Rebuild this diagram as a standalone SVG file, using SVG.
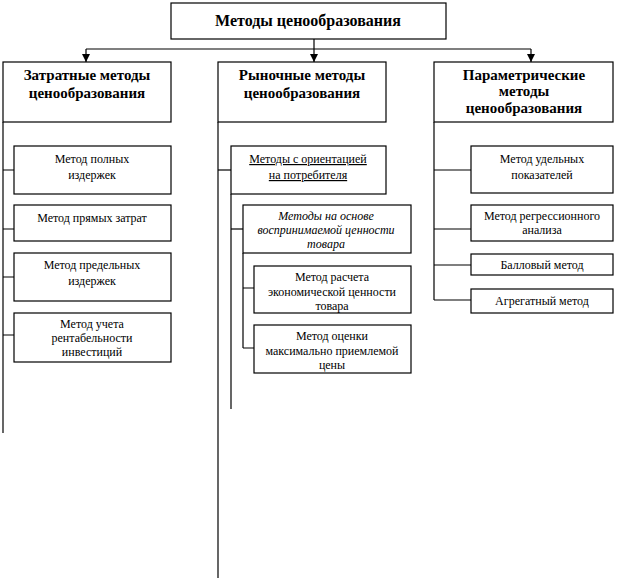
<svg xmlns="http://www.w3.org/2000/svg" width="618" height="579" viewBox="0 0 618 579">
<style>
.b{fill:#fff;stroke:#000;stroke-width:1.2}
.c{stroke:#000;stroke-width:1.2;fill:none}
text{font-family:"Liberation Serif","Times New Roman",serif;fill:#000;text-anchor:middle}
.t{font-size:16px;font-weight:bold}
.h{font-size:15px;font-weight:bold}
.s{font-size:12px}
.u{text-decoration:underline}
.i{font-style:italic}
</style>
<defs>
<marker id="ar" viewBox="0 0 10 10" refX="10" refY="5" markerWidth="8" markerHeight="8" markerUnits="userSpaceOnUse" orient="auto"><path d="M0,0L10,5L0,10z" fill="#000"/></marker>
</defs>
<g id="connectors" class="c">
<path d="M314,39V49"/>
<path d="M86,49H531"/>
<path d="M86,49V62" marker-end="url(#ar)"/>
<path d="M314,49V62" marker-end="url(#ar)"/>
<path d="M531,49V62" marker-end="url(#ar)"/>
<path d="M3,122V433"/>
<path d="M3,170H14M3,229H14M3,277H14M3,335H14"/>
<path d="M218,122V578"/>
<path d="M218,170H231"/>
<path d="M231,194V409"/>
<path d="M231,229H243"/>
<path d="M243,253V348"/>
<path d="M243,288H254M243,348H254"/>
<path d="M434,122V300"/>
<path d="M434,170H471M434,229H471M434,265H471M434,300H471"/>
</g>
<g id="root"><rect class="b" x="171" y="3" width="275" height="36"/><text class="t" x="308" y="26">Методы ценообразования</text></g>
<g id="cost"><rect class="b" x="3" y="62" width="168" height="60"/><text class="h" x="87" y="80">Затратные методы</text><text class="h" x="87" y="98">ценообразования</text></g>
<g id="market"><rect class="b" x="218" y="62" width="168" height="60"/><text class="h" x="302" y="80">Рыночные методы</text><text class="h" x="302" y="98">ценообразования</text></g>
<g id="param"><rect class="b" x="434" y="62" width="179" height="60"/><text class="h" x="524" y="80">Параметрические</text><text class="h" x="524" y="96">методы</text><text class="h" x="524" y="113">ценообразования</text></g>
<g id="full"><rect class="b" x="14" y="146" width="157" height="48"/><text class="s" x="92" y="163">Метод полных</text><text class="s" x="92" y="179">издержек</text></g>
<g id="direct"><rect class="b" x="14" y="205" width="157" height="36"/><text class="s" x="92" y="222">Метод прямых затрат</text></g>
<g id="marginal"><rect class="b" x="14" y="253" width="157" height="48"/><text class="s" x="92" y="269">Метод предельных</text><text class="s" x="92" y="285">издержек</text></g>
<g id="roi"><rect class="b" x="14" y="313" width="157" height="49"/><text class="s" x="92" y="328">Метод учета</text><text class="s" x="92" y="342">рентабельности</text><text class="s" x="92" y="356">инвестиций</text></g>
<g id="consumer"><rect class="b" x="231" y="146" width="155" height="48"/><text class="s u" x="308" y="163">Методы с ориентацией</text><text class="s u" x="308" y="179">на потребителя</text></g>
<g id="perceived"><rect class="b" x="243" y="205" width="168" height="48"/><text class="s i" x="326" y="220">Методы на основе</text><text class="s i" x="326" y="234">воспринимаемой ценности</text><text class="s i" x="326" y="248">товара</text></g>
<g id="econ"><rect class="b" x="254" y="266" width="157" height="47"/><text class="s" x="332" y="281">Метод расчета</text><text class="s" x="332" y="296">экономической ценности</text><text class="s" x="332" y="310">товара</text></g>
<g id="maxaccept"><rect class="b" x="254" y="325" width="157" height="48"/><text class="s" x="332" y="340">Метод оценки</text><text class="s" x="332" y="355">максимально приемлемой</text><text class="s" x="332" y="369">цены</text></g>
<g id="unit"><rect class="b" x="471" y="146" width="142" height="47"/><text class="s" x="542" y="163">Метод удельных</text><text class="s" x="542" y="179">показателей</text></g>
<g id="regr"><rect class="b" x="471" y="205" width="142" height="36"/><text class="s" x="542" y="220">Метод регрессионного</text><text class="s" x="542" y="234">анализа</text></g>
<g id="score"><rect class="b" x="471" y="254" width="142" height="21"/><text class="s" x="542" y="269">Балловый метод</text></g>
<g id="aggr"><rect class="b" x="471" y="289" width="142" height="24"/><text class="s" x="542" y="305">Агрегатный метод</text></g>
</svg>
